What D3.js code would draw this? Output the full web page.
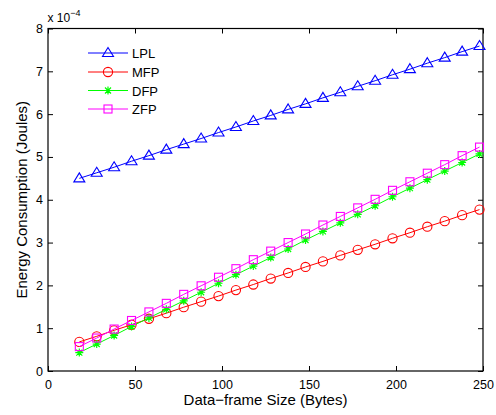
<!doctype html>
<html>
  <head>
    <script src="https://cdnjs.cloudflare.com/ajax/libs/d3/7.8.5/d3.min.js"></script>
    <style>
      body { margin: 0; background: #fff; }
      svg { font-family: "Liberation Sans", Arial, sans-serif; }
    </style>
  </head>
  <body>
    <svg id="chart" width="496" height="415"></svg>
    <script>
      var sizes = [18, 28, 38, 48, 58, 68, 78, 88, 98, 108, 118, 128, 138, 148, 158, 168, 178, 188, 198, 208, 218, 228, 238, 248];
      var lpl = [4.50, 4.63, 4.76, 4.90, 5.03, 5.17, 5.30, 5.43, 5.57, 5.70, 5.84, 5.97, 6.11, 6.24, 6.38, 6.51, 6.65, 6.78, 6.92, 7.05, 7.19, 7.32, 7.46, 7.59];
      var mfp = [0.68, 0.81, 0.95, 1.08, 1.22, 1.35, 1.49, 1.62, 1.75, 1.89, 2.02, 2.16, 2.29, 2.43, 2.56, 2.70, 2.83, 2.96, 3.10, 3.23, 3.37, 3.50, 3.64, 3.77];
      var dfp = [0.43, 0.63, 0.83, 1.04, 1.24, 1.44, 1.64, 1.84, 2.05, 2.25, 2.45, 2.65, 2.85, 3.06, 3.26, 3.46, 3.66, 3.86, 4.07, 4.27, 4.47, 4.67, 4.87, 5.07];
      var zfp = [0.57, 0.77, 0.98, 1.18, 1.38, 1.58, 1.79, 1.99, 2.19, 2.39, 2.60, 2.80, 3.00, 3.20, 3.41, 3.61, 3.81, 4.01, 4.22, 4.42, 4.62, 4.82, 5.03, 5.23];
      var xTicks = [0, 50, 100, 150, 200, 250];
      var yTicks = [0, 1, 2, 3, 4, 5, 6, 7, 8];

      var series = [
        {name: "LPL", values: lpl, color: "#0000ff", marker: "tri"},
        {name: "MFP", values: mfp, color: "#ff0000", marker: "circ"},
        {name: "DFP", values: dfp, color: "#00ff00", marker: "star"},
        {name: "ZFP", values: zfp, color: "#ff00ff", marker: "sq"}
      ];

      var L = 48, R = 483, T = 28.5, B = 371;
      var svg = d3.select("#chart");
      var x = d3.scaleLinear().domain([0, 250]).range([L, R]);
      var y = d3.scaleLinear().domain([0, 8]).range([B, T]);

      // frame
      svg.append("rect").attr("x", L).attr("y", T).attr("width", R - L).attr("height", B - T)
        .attr("fill", "#fff").attr("stroke", "#000").attr("stroke-width", 1.2);

      var tl = 5;
      svg.append("g").attr("transform", "translate(0," + B + ")")
        .call(d3.axisBottom(x).tickValues(xTicks).tickSize(-tl).tickPadding(9))
        .call(g => g.select(".domain").remove());
      svg.append("g").attr("transform", "translate(0," + T + ")")
        .call(d3.axisTop(x).tickValues(xTicks).tickSize(-tl).tickFormat(""))
        .call(g => g.select(".domain").remove());
      svg.append("g").attr("transform", "translate(" + L + ",0)")
        .call(d3.axisLeft(y).tickValues(yTicks).tickSize(-tl).tickPadding(5))
        .call(g => g.select(".domain").remove());
      svg.append("g").attr("transform", "translate(" + R + ",0)")
        .call(d3.axisRight(y).tickValues(yTicks).tickSize(-tl).tickFormat(""))
        .call(g => g.select(".domain").remove());
      svg.selectAll(".tick text").attr("font-size", 12.5).attr("fill", "#000")
        .attr("font-family", "Liberation Sans, Arial, sans-serif");
      svg.selectAll(".tick line").attr("stroke", "#000");

      // exponent
      var ex = svg.append("text").attr("x", 47.5).attr("y", 22).attr("font-size", 12);
      ex.append("tspan").text("x 10");
      ex.append("tspan").attr("dy", -6).attr("font-size", 9).text("\u22124");

      svg.append("text").attr("x", (L + R) / 2).attr("y", 405).attr("text-anchor", "middle")
        .attr("font-size", 15).text("Data\u2212frame Size (Bytes)");
      svg.append("text").attr("transform", "translate(27," + ((T + B) / 2) + ") rotate(-90)")
        .attr("text-anchor", "middle").attr("font-size", 15).text("Energy Consumption (Joules)");

      function drawMarker(g, type, color) {
        if (type === "tri") {
          g.append("path").attr("d", "M0,-5.5L5.5,3.5L-5.5,3.5Z").attr("fill", "none").attr("stroke", color).attr("stroke-width", 1.1);
        } else if (type === "circ") {
          g.append("circle").attr("r", 4.6).attr("fill", "none").attr("stroke", color).attr("stroke-width", 1.1);
        } else if (type === "sq") {
          g.append("rect").attr("x", -4).attr("y", -4).attr("width", 8).attr("height", 8).attr("fill", "none").attr("stroke", color).attr("stroke-width", 1.1);
        } else {
          g.append("path").attr("d", "M-4,0H4M0,-4V4M-3,-3L3,3M-3,3L3,-3").attr("stroke", color).attr("stroke-width", 1.2);
        }
      }

      var line = d3.line().x((d, i) => x(sizes[i])).y(d => y(d));
      series.forEach(function(s) {
        svg.append("path").attr("d", line(s.values)).attr("fill", "none").attr("stroke", s.color).attr("stroke-width", 1);
        s.values.forEach(function(v, i) {
          var g = svg.append("g").attr("transform", "translate(" + x(sizes[i]) + "," + y(v) + ")");
          drawMarker(g, s.marker, s.color);
        });
      });

      // legend
      var legY = [53, 72, 90.5, 109];
      series.forEach(function(s, i) {
        var g = svg.append("g").attr("transform", "translate(0," + legY[i] + ")");
        g.append("line").attr("x1", 88).attr("x2", 128).attr("stroke", s.color).attr("stroke-width", 1);
        var m = g.append("g").attr("transform", "translate(108,0)");
        drawMarker(m, s.marker, s.color);
        g.append("text").attr("x", 132).attr("y", 5).attr("font-size", 13).text(s.name);
      });
    </script>
  </body>
</html>
